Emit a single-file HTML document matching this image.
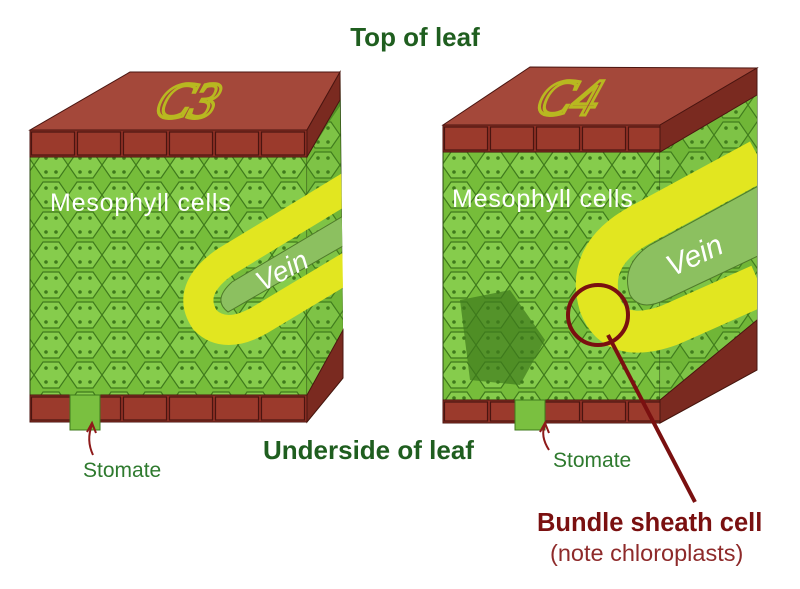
<!DOCTYPE html>
<html><head><meta charset="utf-8"><style>
html,body{margin:0;padding:0;background:#fff;}
svg{display:block;font-family:"Liberation Sans",sans-serif;}
</style></head><body>
<svg width="800" height="589" viewBox="0 0 800 589" xmlns="http://www.w3.org/2000/svg">
<defs>
<pattern id="cells" width="34" height="30" patternUnits="userSpaceOnUse">
<rect width="34" height="30" fill="#76bd3a"/>
<path d="M0 15 L9 2 L25 2 L34 15 L25 28 L9 28 Z" fill="#86cc4c" stroke="#3f7a1c" stroke-width="1.2"/>
<circle cx="12" cy="8" r="1.8" fill="#3f7a1c"/><circle cx="22" cy="8" r="1.8" fill="#3f7a1c"/>
<circle cx="12" cy="22" r="1.8" fill="#3f7a1c"/><circle cx="22" cy="22" r="1.8" fill="#3f7a1c"/>
</pattern>
<pattern id="brickL" x="30" y="130" width="46" height="27" patternUnits="userSpaceOnUse">
<rect width="46" height="27" fill="#8e2f24"/>
<rect x="1.5" y="2" width="43" height="23" fill="#9b3a2c" stroke="#4a1510" stroke-width="1.2"/>
</pattern>
<pattern id="brickLb" x="30" y="395" width="46" height="27" patternUnits="userSpaceOnUse">
<rect width="46" height="27" fill="#8e2f24"/>
<rect x="1.5" y="2" width="43" height="23" fill="#9b3a2c" stroke="#4a1510" stroke-width="1.2"/>
</pattern>
<pattern id="brickR" x="443" y="125" width="46" height="27" patternUnits="userSpaceOnUse">
<rect width="46" height="27" fill="#8e2f24"/>
<rect x="1.5" y="2" width="43" height="23" fill="#9b3a2c" stroke="#4a1510" stroke-width="1.2"/>
</pattern>
<pattern id="brickRb" x="443" y="400" width="46" height="23" patternUnits="userSpaceOnUse">
<rect width="46" height="23" fill="#8e2f24"/>
<rect x="1.5" y="2" width="43" height="19" fill="#9b3a2c" stroke="#4a1510" stroke-width="1.2"/>
</pattern>
<clipPath id="clipL"><polygon points="30,157 307,157 340,100 345,420 30,420"/></clipPath>
<clipPath id="clipR"><polygon points="443,152 660,152 757,95 757,400 443,400"/></clipPath>
</defs>

<text x="415" y="46" font-size="26" font-weight="bold" fill="#1f5e1f" text-anchor="middle">Top of leaf</text>

<!-- LEFT BLOCK -->
<polygon points="307,130 340,72 343,378 307,422" fill="#4f8f25" stroke="#2c4a14"/>
<rect x="30" y="157" width="277" height="238" fill="url(#cells)" stroke="#2c4a14"/>
<polygon points="307,157 340,105 343,330 307,395" fill="url(#cells)" opacity="0.85"/>
<polygon points="30,130 130,72 340,72 307,130" fill="#a4483a" stroke="#4a1510"/>
<rect x="30" y="130" width="277" height="27" fill="url(#brickL)" stroke="#4a1510"/>
<polygon points="307,130 340,72 340,100 307,157" fill="#7a2a20" stroke="#4a1510"/>
<rect x="30" y="395" width="277" height="27" fill="url(#brickLb)" stroke="#4a1510"/>
<polygon points="307,395 343,330 343,378 307,422" fill="#7a2a20" stroke="#4a1510"/>
<text x="185" y="118" font-size="52" font-style="italic" font-family="Liberation Serif,serif" fill="none" stroke="#b8b820" stroke-width="3" text-anchor="middle" transform="skewX(-20) translate(40,0)">C3</text>
<g clip-path="url(#clipL)">
<path d="M350,186 L225,262 Q185,290 205,320 Q225,340 260,320 L350,266" fill="none" stroke="#e2e620" stroke-width="30" stroke-linejoin="round"/>
<path d="M350,212 L232,282 Q212,300 228,312 L350,242" fill="#8cc060" stroke="#4f7a2a" stroke-width="1"/>
</g>
<text x="0" y="0" font-size="28" font-style="italic" fill="#fff" transform="translate(262,292) rotate(-28)">Vein</text>
<rect x="70" y="395" width="30" height="35" fill="#7ac040" stroke="#3f7a1c"/>
<text x="50" y="211" font-size="25" letter-spacing="0.8" fill="#fff">Mesophyll cells</text>
<path d="M93,455 Q86,440 92,425" fill="none" stroke="#8e1a1a" stroke-width="2"/>
<path d="M87,432 L92,423 L96,433" fill="none" stroke="#8e1a1a" stroke-width="2"/>
<text x="83" y="477" font-size="21" fill="#2e7a2e">Stomate</text>

<text x="263" y="459" font-size="26" font-weight="bold" fill="#1f5e1f">Underside of leaf</text>

<!-- RIGHT BLOCK -->
<polygon points="660,125 757,68 757,370 660,423" fill="#4f8f25" stroke="#2c4a14"/>
<rect x="443" y="152" width="217" height="248" fill="url(#cells)" stroke="#2c4a14"/>
<polygon points="660,152 757,95 757,320 660,400" fill="url(#cells)" opacity="0.85"/>
<polygon points="443,125 530,67 757,68 660,125" fill="#a4483a" stroke="#4a1510"/>
<rect x="443" y="125" width="217" height="27" fill="url(#brickR)" stroke="#4a1510"/>
<polygon points="660,125 757,68 757,95 660,152" fill="#7a2a20" stroke="#4a1510"/>
<rect x="443" y="400" width="217" height="23" fill="url(#brickRb)" stroke="#4a1510"/>
<polygon points="660,400 757,320 757,370 660,423" fill="#7a2a20" stroke="#4a1510"/>
<polygon points="460,300 510,290 545,340 520,385 470,380" fill="#3f7a1c" opacity="0.7"/>
<text x="565" y="115" font-size="52" font-style="italic" font-family="Liberation Serif,serif" fill="none" stroke="#b8b820" stroke-width="3" text-anchor="middle" transform="skewX(-20) translate(40,0)">C4</text>
<g clip-path="url(#clipR)">
<path d="M760,160 L640,225 Q585,255 600,305 Q615,345 670,325 L760,285" fill="none" stroke="#e2e620" stroke-width="42" stroke-linejoin="round"/>
<path d="M760,185 L650,245 Q620,265 630,295 Q640,312 665,300 L760,255" fill="#8cc060" stroke="#4f7a2a" stroke-width="1"/>
</g>
<text x="0" y="0" font-size="30" font-style="italic" fill="#fff" transform="translate(672,277) rotate(-25)">Vein</text>
<rect x="515" y="400" width="30" height="30" fill="#7ac040" stroke="#3f7a1c"/>
<text x="452" y="207" font-size="25" letter-spacing="0.8" fill="#fff">Mesophyll cells</text>
<circle cx="598" cy="315" r="30" fill="none" stroke="#7a1010" stroke-width="4"/>
<line x1="608" y1="335" x2="695" y2="502" stroke="#7a1010" stroke-width="4"/>
<path d="M549,450 Q540,436 545,425" fill="none" stroke="#8e1a1a" stroke-width="2"/>
<path d="M540,432 L545,423 L549,433" fill="none" stroke="#8e1a1a" stroke-width="2"/>
<text x="553" y="467" font-size="21" fill="#2e7a2e">Stomate</text>

<text x="537" y="531" font-size="25.5" font-weight="bold" fill="#7a1010">Bundle sheath cell</text>
<text x="550" y="561" font-size="23.5" fill="#8e2a2a">(note chloroplasts)</text>
</svg>
</body></html>
